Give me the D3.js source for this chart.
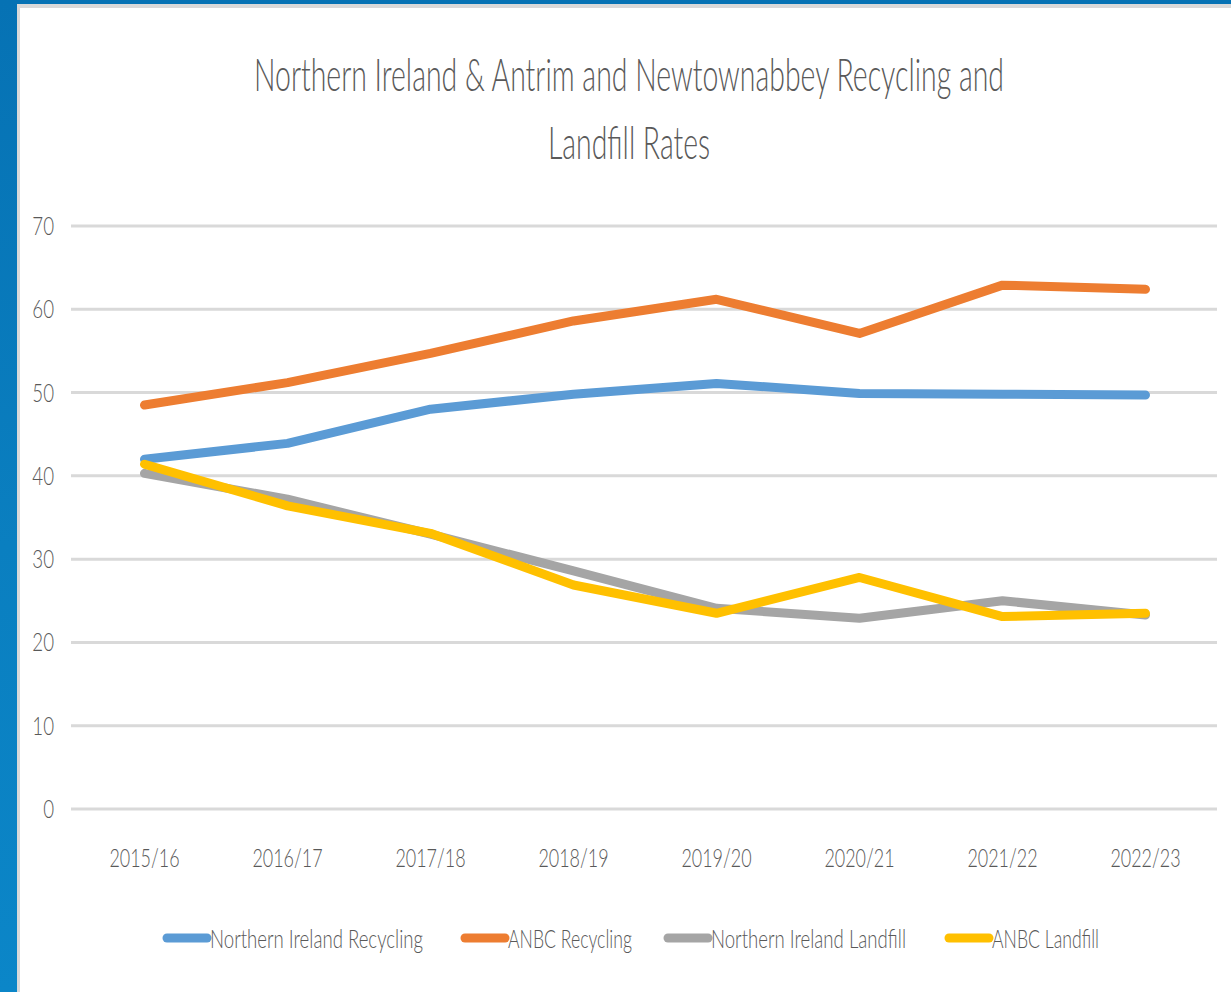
<!DOCTYPE html>
<html>
<head>
<meta charset="utf-8">
<script src="https://cdn.jsdelivr.net/npm/d3@7"></script>
<style>
  html, body { margin: 0; padding: 0; }
  body { width: 1231px; height: 992px; overflow: hidden; background: #0a7cbd; }
  svg text { font-family: "Lato", "Open Sans", sans-serif; font-weight: 300; fill: #595959; }
</style>
</head>
<body>
<svg id="chart" width="1231" height="992"></svg>
<script>
// ---- data ----
const years = ["2015/16", "2016/17", "2017/18", "2018/19", "2019/20", "2020/21", "2021/22", "2022/23"];
const niRecycling   = [42.0, 43.9, 48.0, 49.8, 51.1, 49.9, 49.8, 49.7];
const anbcRecycling = [48.5, 51.2, 54.7, 58.6, 61.2, 57.1, 62.9, 62.4];
const niLandfill    = [40.3, 37.2, 33.0, 28.6, 24.1, 22.9, 25.0, 23.3];
const anbcLandfill  = [41.4, 36.4, 33.1, 26.9, 23.5, 27.8, 23.1, 23.5];
const yTicks = [0, 10, 20, 30, 40, 50, 60, 70];
const titleLines = ["Northern Ireland & Antrim and Newtownabbey Recycling and", "Landfill Rates"];

const series = [
  { name: "Northern Ireland Recycling", values: niRecycling,   color: "#5b9bd5" },
  { name: "ANBC Recycling",             values: anbcRecycling, color: "#ed7d31" },
  { name: "Northern Ireland Landfill",  values: niLandfill,    color: "#a5a5a5" },
  { name: "ANBC Landfill",              values: anbcLandfill,  color: "#ffc000" }
];

const svg = d3.select("#chart");

// blue frame + white card
const defs = svg.append("defs");
const grad = defs.append("linearGradient").attr("id", "frame").attr("x1", 0).attr("y1", 0).attr("x2", 0).attr("y2", 1);
grad.append("stop").attr("offset", "0%").attr("stop-color", "#0672b4");
grad.append("stop").attr("offset", "55%").attr("stop-color", "#0a7fc0");
grad.append("stop").attr("offset", "100%").attr("stop-color", "#0b86c8");
svg.append("rect").attr("width", 1231).attr("height", 992).attr("fill", "url(#frame)");
svg.append("rect").attr("x", 17).attr("y", 4).attr("width", 1220).attr("height", 995)
  .attr("fill", "#d9d9d9");
svg.append("rect").attr("x", 20).attr("y", 8).attr("width", 1220).attr("height", 995)
  .attr("fill", "#ffffff");

// title
const titleWidths = [750, 162];
svg.selectAll(".title")
  .data(titleLines)
  .join("text")
  .attr("class", "title")
  .attr("x", 629)
  .attr("y", (d, i) => 91 + i * 68)
  .attr("text-anchor", "middle")
  .attr("font-size", 46)
  .attr("textLength", (d, i) => titleWidths[i])
  .attr("lengthAdjust", "spacingAndGlyphs")
  .text(d => d);

// scales
const x = d3.scaleBand().domain(years).range([73, 1217]);
const cx = d => x(d) + x.bandwidth() / 2;
const y = d3.scaleLinear().domain([0, 70]).range([809, 226]);

// gridlines
svg.append("g")
  .selectAll("line")
  .data(yTicks)
  .join("line")
  .attr("x1", 71)
  .attr("x2", 1217)
  .attr("y1", d => y(d))
  .attr("y2", d => y(d))
  .attr("stroke", "#d9d9d9")
  .attr("stroke-width", 3);

// y labels, narrow like the original
svg.append("g")
  .selectAll("text")
  .data(yTicks)
  .join("text")
  .attr("transform", d => `translate(54,${y(d) + 9}) scale(0.72,1)`)
  .attr("text-anchor", "end")
  .attr("font-size", 26)
  .text(d => d);

// x labels
svg.append("g")
  .selectAll("text")
  .data(years)
  .join("text")
  .attr("transform", d => `translate(${cx(d)},${867}) scale(0.69,1)`)
  .attr("text-anchor", "middle")
  .attr("font-size", 26)
  .text(d => d);

// lines
const line = d3.line()
  .x((v, i) => cx(years[i]))
  .y(v => y(v));

svg.append("g")
  .selectAll("path")
  .data(series)
  .join("path")
  .attr("d", d => line(d.values))
  .attr("fill", "none")
  .attr("stroke", d => d.color)
  .attr("stroke-width", 9)
  .attr("stroke-linejoin", "round")
  .attr("stroke-linecap", "round");

// legend
const legendX = [167, 465, 668, 949];
const legendTextW = [213, 124, 195, 107];
const leg = svg.append("g")
  .selectAll("g")
  .data(series)
  .join("g")
  .attr("transform", (d, i) => `translate(${legendX[i]},938)`);

leg.append("line")
  .attr("x1", 0).attr("x2", 40)
  .attr("stroke", d => d.color)
  .attr("stroke-width", 9)
  .attr("stroke-linecap", "round");

leg.append("text")
  .attr("x", 43)
  .attr("y", 10)
  .attr("font-size", 26)
  .attr("textLength", (d, i) => legendTextW[i])
  .attr("lengthAdjust", "spacingAndGlyphs")
  .text(d => d.name);
</script>
</body>
</html>
